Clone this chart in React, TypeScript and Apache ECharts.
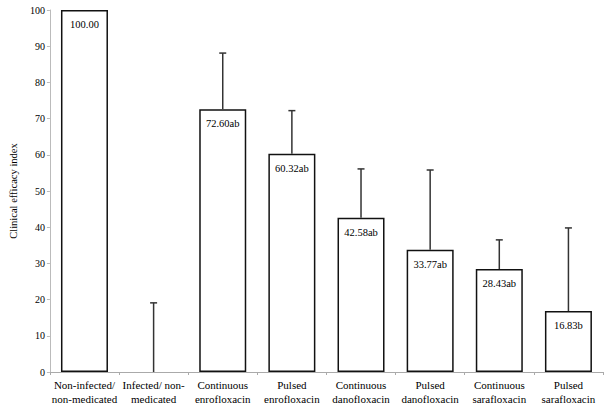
import React, { useEffect, useRef } from "react";
import * as echarts from "echarts";

const categories = [
  "Non-infected/\nnon-medicated",
  "Infected/ non-\nmedicated",
  "Continuous\nenrofloxacin",
  "Pulsed\nenrofloxacin",
  "Continuous\ndanofloxacin",
  "Pulsed\ndanofloxacin",
  "Continuous\nsarafloxacin",
  "Pulsed\nsarafloxacin",
];
const values = [100, 0, 72.6, 60.32, 42.58, 33.77, 28.43, 16.83];
const valueLabels = ["100.00", "", "72.60ab", "60.32ab", "42.58ab", "33.77ab", "28.43ab", "16.83b"];
const errorTops: (number | null)[] = [null, 19.1, 88.1, 72.2, 56.1, 55.8, 36.5, 39.8];

const FONT = "'Times New Roman', 'Liberation Serif', serif";

export default function App() {
  const ref = useRef<HTMLDivElement>(null);
  useEffect(() => {
    if (!ref.current) return;
    const chart = echarts.init(ref.current, null, { renderer: "svg" });
    const errData = errorTops
      .map((t, i) => (t === null ? null : [i, values[i], t]))
      .filter((d) => d !== null);
    chart.setOption({
      animation: false,
      backgroundColor: "#fff",
      textStyle: { fontFamily: FONT },
      grid: { left: 43, right: 6, top: 10, bottom: 39, containLabel: false },
      xAxis: {
        type: "category",
        data: categories,
        axisLine: { lineStyle: { color: "#aaa", width: 1 } },
        axisTick: { show: true, length: 3, lineStyle: { color: "#aaa" } },
        axisLabel: {
          fontFamily: FONT,
          fontSize: 11,
          color: "#000",
          lineHeight: 14,
          margin: 6,
          interval: 0,
        },
      },
      yAxis: {
        type: "value",
        min: 0,
        max: 100,
        interval: 10,
        name: "Clinical efficacy index",
        nameLocation: "middle",
        nameGap: 27,
        nameTextStyle: { fontFamily: FONT, fontSize: 10.5, color: "#000" },
        axisLine: { show: true, lineStyle: { color: "#bbb", width: 1 } },
        axisTick: { show: true, length: 3, lineStyle: { color: "#bbb" } },
        axisLabel: { fontFamily: FONT, fontSize: 10, color: "#000", margin: 5 },
        splitLine: { show: false },
      },
      series: [
        {
          type: "bar",
          data: values.map((v, i) => ({
            value: v,
            itemStyle: v === 0 ? { borderWidth: 0 } : undefined,
          })),
          barWidth: 47,
          itemStyle: { color: "#fff", borderColor: "#111", borderWidth: 1.5 },
          label: {
            show: true,
            position: "insideTop",
            distance: 9,
            fontFamily: FONT,
            fontSize: 10.5,
            color: "#000",
            formatter: (p: any) => valueLabels[p.dataIndex],
          },
          z: 2,
        },
        {
          type: "custom",
          data: errData,
          z: 3,
          renderItem: (params: any, api: any) => {
            const idx = api.value(0);
            const base = api.value(1);
            const top = api.value(2);
            const p0 = api.coord([idx, base]);
            const p1 = api.coord([idx, top]);
            const style = { stroke: "#333", lineWidth: 1.5 };
            return {
              type: "group",
              children: [
                { type: "line", shape: { x1: p0[0], y1: p0[1], x2: p1[0], y2: p1[1] }, style },
                { type: "line", shape: { x1: p1[0] - 3.5, y1: p1[1], x2: p1[0] + 3.5, y2: p1[1] }, style },
              ],
            };
          },
        },
      ],
    });
    return () => chart.dispose();
  }, []);
  return (
    <div
      ref={ref}
      style={{ position: "fixed", left: 0, top: 0, width: 609, height: 411, background: "#fff" }}
    />
  );
}
